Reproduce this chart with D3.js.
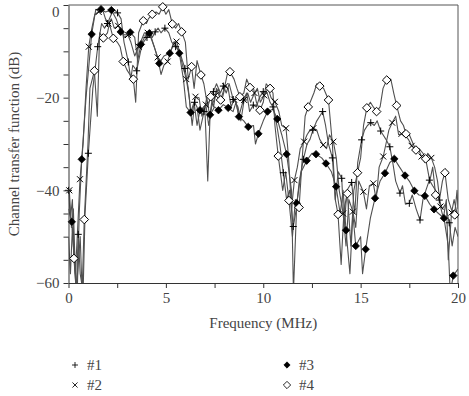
<!DOCTYPE html>
<html><head><meta charset="utf-8">
<script src="https://cdn.jsdelivr.net/npm/d3@7"></script>
<style>html,body{margin:0;padding:0;background:#fff;}svg{display:block;}</style>
</head><body>
<svg id="c" width="469" height="396"></svg>
<script>
// ---- data (frequency MHz, dB) ----
const xTicks = [0, 5, 10, 15, 20];
const yTicks = [-60, -40, -20, 0];
const seriesNames = ["#1", "#2", "#3", "#4"];

const s1Markers = [[0.0,-40],[0.5,-49.5],[1.02,-32],[1.5,-9],[2.0,-4],[2.52,-1.7],[3.07,-12.3],[3.5,-14.2],[4.03,-7],[4.45,-5.8],[4.95,-5.0],[5.5,-9],[5.98,-13.7],[6.47,-21],[6.96,-23],[7.44,-18.7],[7.95,-17.5],[8.46,-20.4],[8.98,-20.5],[9.49,-21.6],[10.0,-18.7],[10.5,-22],[11.03,-36.2],[11.54,-47.8],[12.06,-33.3],[12.55,-27],[13.05,-23],[13.55,-33],[14.03,-37.4],[14.54,-38.3],[15.05,-29.1],[15.52,-25.4],[16.03,-27.2],[16.5,-30.6],[17.02,-40.6],[17.5,-42.8],[18.05,-46.4],[18.53,-37.8],[19.04,-42.1],[19.55,-47]];
const s1Between = [[0.1,-46],[0.2,-42],[0.3,-55],[0.4,-62],[0.6,-58],[0.75,-62],[0.85,-45],[1.25,-18],[1.7,-4],[1.85,-5],[2.2,-2],[2.35,-1],[2.7,-3],[2.85,-8],[3.2,-16],[3.3,-13],[3.7,-10],[3.85,-8],[4.2,-6],[4.3,-7],[4.6,-5],[4.75,-6],[5.15,-6],[5.3,-8],[5.7,-10],[5.85,-12],[6.15,-18],[6.3,-24],[6.6,-22],[6.75,-27],[7.1,-20],[7.25,-24],[7.6,-17],[7.8,-19],[8.1,-19],[8.25,-17],[8.6,-21],[8.75,-24],[9.15,-19],[9.3,-23],[9.65,-22],[9.8,-20],[10.2,-19],[10.35,-21],[10.7,-26],[10.85,-30],[11.2,-42],[11.35,-40],[11.7,-44],[11.85,-38],[12.25,-30],[12.4,-29],[12.75,-25],[12.9,-24],[13.2,-26],[13.35,-30],[13.7,-42],[13.85,-36],[14.15,-48],[14.3,-40],[14.7,-45],[14.85,-34],[15.2,-27],[15.35,-26],[15.7,-26],[15.85,-25],[16.15,-28],[16.3,-29],[16.65,-34],[16.8,-38],[17.15,-39],[17.3,-43],[17.65,-41],[17.85,-44],[18.2,-42],[18.35,-40],[18.7,-39],[18.85,-40],[19.2,-44],[19.35,-43],[19.7,-52],[19.85,-48],[20,-50]];

const s2Markers = [[0.04,-40],[0.59,-37.6],[1.04,-9],[1.55,-1.5],[2.05,-4],[2.55,-4.5],[3.05,-6.5],[3.6,-9],[4.07,-6],[4.58,-11.3],[5.09,-12.2],[5.55,-7.9],[6.05,-16],[6.52,-19.8],[7.05,-21.5],[7.55,-19.5],[8.05,-17.5],[8.5,-20.4],[9.02,-20.5],[9.55,-19],[10.05,-19.5],[10.6,-20.9],[11.17,-26.6],[11.6,-37.8],[12.1,-29.5],[12.57,-26.6],[13.08,-30.2],[13.6,-29.5],[14.1,-45],[14.6,-44.6],[15.14,-40.3],[15.65,-38.5],[16.16,-32.7],[16.62,-25.4],[17.1,-27.8],[17.62,-30.4],[18.13,-32.7],[18.63,-33],[19.1,-43.5],[19.67,-44.8]];
const s2Between = [[0.15,-48],[0.25,-44],[0.35,-58],[0.45,-50],[0.75,-30],[0.9,-18],[1.2,-5],[1.35,-2],[1.75,-1],[1.9,-3],[2.2,-3],[2.35,-5],[2.7,-5],[2.85,-7],[3.2,-8],[3.4,-11],[3.8,-7],[3.9,-6],[4.25,-7],[4.4,-9],[4.75,-15],[4.9,-13],[5.25,-10],[5.4,-8],[5.7,-10],[5.85,-13],[6.2,-20],[6.35,-26],[6.7,-20],[6.85,-24],[7.2,-26],[7.35,-22],[7.7,-18],[7.85,-21],[8.2,-18],[8.35,-22],[8.7,-22],[8.85,-25],[9.2,-19],[9.35,-21],[9.7,-18],[9.85,-21],[10.25,-18],[10.4,-20],[10.8,-23],[10.95,-26],[11.3,-33],[11.45,-44],[11.75,-35],[11.9,-31],[12.25,-28],[12.4,-27],[12.75,-27],[12.9,-29],[13.25,-31],[13.4,-28],[13.75,-33],[13.9,-40],[14.25,-52],[14.4,-42],[14.75,-48],[14.9,-38],[15.3,-44],[15.45,-39],[15.8,-42],[15.95,-35],[16.3,-30],[16.45,-27],[16.8,-24],[16.95,-28],[17.25,-28],[17.45,-29],[17.8,-31],[17.95,-31],[18.3,-34],[18.45,-32],[18.8,-35],[18.95,-38],[19.25,-46],[19.4,-42],[19.5,-55],[19.8,-42],[20,-46]];

const s3Markers = [[0.17,-46.8],[0.68,-33.3],[1.19,-6.3],[1.67,-0.9],[2.2,-1.1],[2.68,-5.8],[3.17,-5.9],[3.72,-8.5],[4.15,-6.1],[4.66,-12.6],[5.2,-10.4],[5.69,-10.4],[6.27,-23.2],[6.75,-22.7],[7.27,-23.7],[7.7,-22.7],[8.2,-22.2],[8.75,-24.1],[9.23,-26.3],[9.75,-27.8],[10.22,-23],[10.72,-24.6],[11.2,-32.2],[11.72,-42.8],[12.23,-33.6],[12.71,-32.2],[13.22,-34.2],[13.74,-39.2],[14.25,-48.6],[14.75,-52],[15.26,-52.7],[15.74,-41.7],[16.25,-36.3],[16.73,-33.2],[17.28,-36.8],[17.76,-40.1],[18.3,-41.2],[18.77,-44.1],[19.28,-46],[19.76,-58.4]];
const s3Between = [[0,-44],[0.3,-55],[0.45,-62],[0.55,-45],[0.9,-20],[1.4,-1],[1.9,-1.5],[2.45,-3],[2.9,-6.5],[3.4,-7],[3.55,-12],[3.9,-7],[4.4,-9],[4.9,-11],[5.45,-8],[5.9,-16],[6.05,-22],[6.45,-21],[6.6,-26],[7.0,-22],[7.15,-38],[7.5,-22],[7.95,-21.5],[8.45,-23],[8.6,-21],[9.0,-25],[9.5,-26],[9.6,-30],[10.0,-25],[10.5,-22.5],[10.95,-28],[11.45,-40],[11.55,-62],[11.95,-36],[12.5,-32],[13.0,-33],[13.5,-36],[13.95,-45],[14.1,-40],[14.45,-58],[14.6,-45],[15.0,-50],[15.1,-58],[15.5,-46],[16.0,-38],[16.5,-34],[17.0,-35],[17.5,-38],[18.0,-41],[18.55,-43],[19.0,-45],[19.5,-52],[19.6,-62],[20,-57]];

const s4Markers = [[0.28,-54.7],[0.81,-46.3],[1.33,-14.2],[1.79,-7.1],[2.3,-7.2],[2.81,-12.2],[3.33,-16],[3.84,-3.4],[4.3,-2],[4.84,-0.4],[5.33,-4.1],[5.81,-5.8],[6.32,-13.3],[6.8,-15.1],[7.3,-19.8],[7.81,-20.5],[8.29,-14.4],[8.8,-19.8],[9.32,-17.8],[9.83,-22.7],[10.35,-18],[10.77,-32.6],[11.32,-42.2],[11.84,-43.7],[12.31,-22],[12.9,-17.5],[13.35,-20.5],[13.84,-45.2],[14.32,-40.7],[14.84,-36.2],[15.32,-22.2],[15.82,-23],[16.34,-16.2],[16.85,-21.7],[17.33,-27.8],[17.84,-31.3],[18.34,-33.2],[18.85,-41],[19.33,-36.2],[19.83,-45.3]];
const s4Between = [[0,-50],[0.1,-58],[0.2,-48],[0.4,-62],[0.6,-50],[0.7,-62],[1.0,-30],[1.1,-18],[1.48,-24],[1.6,-6],[2.0,-6],[2.1,-4],[2.5,-8],[2.65,-9],[3.0,-14],[3.15,-15],[3.45,-21],[3.6,-6],[4.0,-4],[4.1,-3],[4.5,-1.5],[4.65,-2],[5.0,-2],[5.15,-1],[5.5,-5],[5.65,-4],[6.0,-8],[6.15,-16],[6.45,-18],[6.6,-12],[6.95,-17],[7.15,-22],[7.45,-22],[7.6,-18],[8.0,-18],[8.15,-15],[8.5,-16],[8.65,-18],[9.0,-19],[9.15,-16],[9.5,-18],[9.65,-21],[10.0,-21],[10.15,-17],[10.5,-19],[10.6,-26],[11.0,-40],[11.15,-36],[11.5,-50],[11.65,-42],[12.05,-30],[12.15,-24],[12.6,-19],[12.75,-17],[13.1,-18],[13.2,-19],[13.55,-30],[13.7,-42],[14.0,-56],[14.15,-44],[14.5,-52],[14.65,-40],[15.0,-33],[15.15,-26],[15.5,-21],[15.65,-22],[16.0,-22],[16.15,-18],[16.55,-16],[16.7,-19],[17.05,-25],[17.2,-26],[17.5,-28],[17.7,-30],[18.0,-31],[18.2,-32],[18.55,-38],[18.7,-35],[19.05,-42],[19.2,-38],[19.5,-42],[19.65,-44],[19.95,-40],[20,-44]];

// ---- layout ----
const svg = d3.select("#c");
const FONT = "'Liberation Serif', 'DejaVu Serif', serif";
const TXT = "#444";
const x = d3.scaleLinear().domain([0, 20]).range([68.5, 458]);
const y = d3.scaleLinear().domain([-60, 0]).range([283, 5]);

const series = [
  {name: seriesNames[0], markers: s1Markers, between: s1Between, sym: "plus"},
  {name: seriesNames[1], markers: s2Markers, between: s2Between, sym: "cross"},
  {name: seriesNames[2], markers: s3Markers, between: s3Between, sym: "dfill"},
  {name: seriesNames[3], markers: s4Markers, between: s4Between, sym: "dopen"}
];

const symPath = {
  plus: "M-3.5,0H3.5M0,-3.5V3.5",
  cross: "M-3,-3L3,3M-3,3L3,-3",
  dfill: "M0,-3.7L3.7,0L0,3.7L-3.7,0Z",
  dopen: "M0,-4.3L4.3,0L0,4.3L-4.3,0Z"
};
function styleSym(sel, s) {
  if (s === "plus" || s === "cross") sel.attr("fill", "none").attr("stroke", "#000").attr("stroke-width", 1);
  else if (s === "dfill") sel.attr("fill", "#000").attr("stroke", "#000").attr("stroke-width", 0.8);
  else sel.attr("fill", "#fff").attr("stroke", "#000").attr("stroke-width", 1);
}

svg.append("defs").append("clipPath").attr("id", "clip")
  .append("rect").attr("x", x(0)).attr("y", y(0)).attr("width", x(20) - x(0)).attr("height", y(-60) - y(0));

// frame top/right
svg.append("line").attr("x1", x(0)).attr("x2", x(20)).attr("y1", y(0)).attr("y2", y(0)).attr("stroke", "#555");
svg.append("line").attr("x1", x(20)).attr("x2", x(20)).attr("y1", y(0)).attr("y2", y(-60)).attr("stroke", "#555");

const line = d3.line().x(d => x(d[0])).y(d => y(d[1]));
const plot = svg.append("g").attr("clip-path", "url(#clip)");
series.forEach(s => {
  const pts = s.markers.concat(s.between).sort((a, b) => a[0] - b[0]);
  plot.append("path").datum(pts).attr("d", line)
    .attr("fill", "none").attr("stroke", "#505050").attr("stroke-width", 1.1).attr("stroke-linejoin", "round");
});
series.forEach(s => {
  const g = svg.append("g");
  g.selectAll("path").data(s.markers.filter(d => d[1] >= -60)).join("path")
    .attr("d", symPath[s.sym])
    .attr("transform", d => `translate(${x(d[0])},${y(d[1])})`)
    .call(sel => styleSym(sel, s.sym));
});

// axes
const fmt = d => (d < 0 ? "\u2212" + Math.abs(d) : String(d));
const xAx = svg.append("g").attr("transform", `translate(0,${y(-60)})`)
  .call(d3.axisBottom(x).tickValues(d3.range(0, 20.01, 2.5)).tickSize(5).tickSizeOuter(0)
    .tickFormat(d => xTicks.includes(d) ? fmt(d) : ""));
const yAx = svg.append("g").attr("transform", `translate(${x(0)},0)`)
  .call(d3.axisLeft(y).tickValues(d3.range(-60, 0.01, 5)).tickSize(5).tickSizeOuter(0)
    .tickFormat(d => yTicks.includes(d) ? fmt(d) : ""));
[xAx, yAx].forEach(a => {
  a.select(".domain").attr("stroke", "#333");
  a.selectAll(".tick line").attr("stroke", "#333");
  a.selectAll("text").attr("font-family", FONT).attr("font-size", 15).attr("fill", TXT);
});
xAx.selectAll("text").attr("dy", "0.95em").attr("y", 6);
yAx.selectAll("text").attr("x", -9);
// keep the top "0" label inside the picture
yAx.selectAll(".tick").filter(d => d === 0).select("text").attr("dy", "0.75em");

// axis titles
svg.append("text").attr("x", (x(0) + x(20)) / 2).attr("y", 328).attr("text-anchor", "middle")
  .attr("font-family", FONT).attr("font-size", 15).attr("fill", TXT).text("Frequency (MHz)");
svg.append("text").attr("transform", `translate(19,${(y(0) + y(-60)) / 2}) rotate(-90)`)
  .attr("text-anchor", "middle").attr("font-family", FONT).attr("font-size", 15).attr("fill", TXT)
  .text("Channel transfer function (dB)");

// legend
const legPos = [[75, 365], [75, 385], [287, 365], [287, 385]];
series.forEach((s, i) => {
  const [lx, ly] = legPos[i];
  const p = svg.append("path").attr("d", symPath[s.sym]).attr("transform", `translate(${lx},${ly}) scale(0.85)`);
  styleSym(p, s.sym);
  svg.append("text").attr("x", lx + 12).attr("y", ly + 5).attr("font-family", FONT).attr("font-size", 15)
    .attr("fill", TXT).text(s.name);
});
</script>
</body></html>
